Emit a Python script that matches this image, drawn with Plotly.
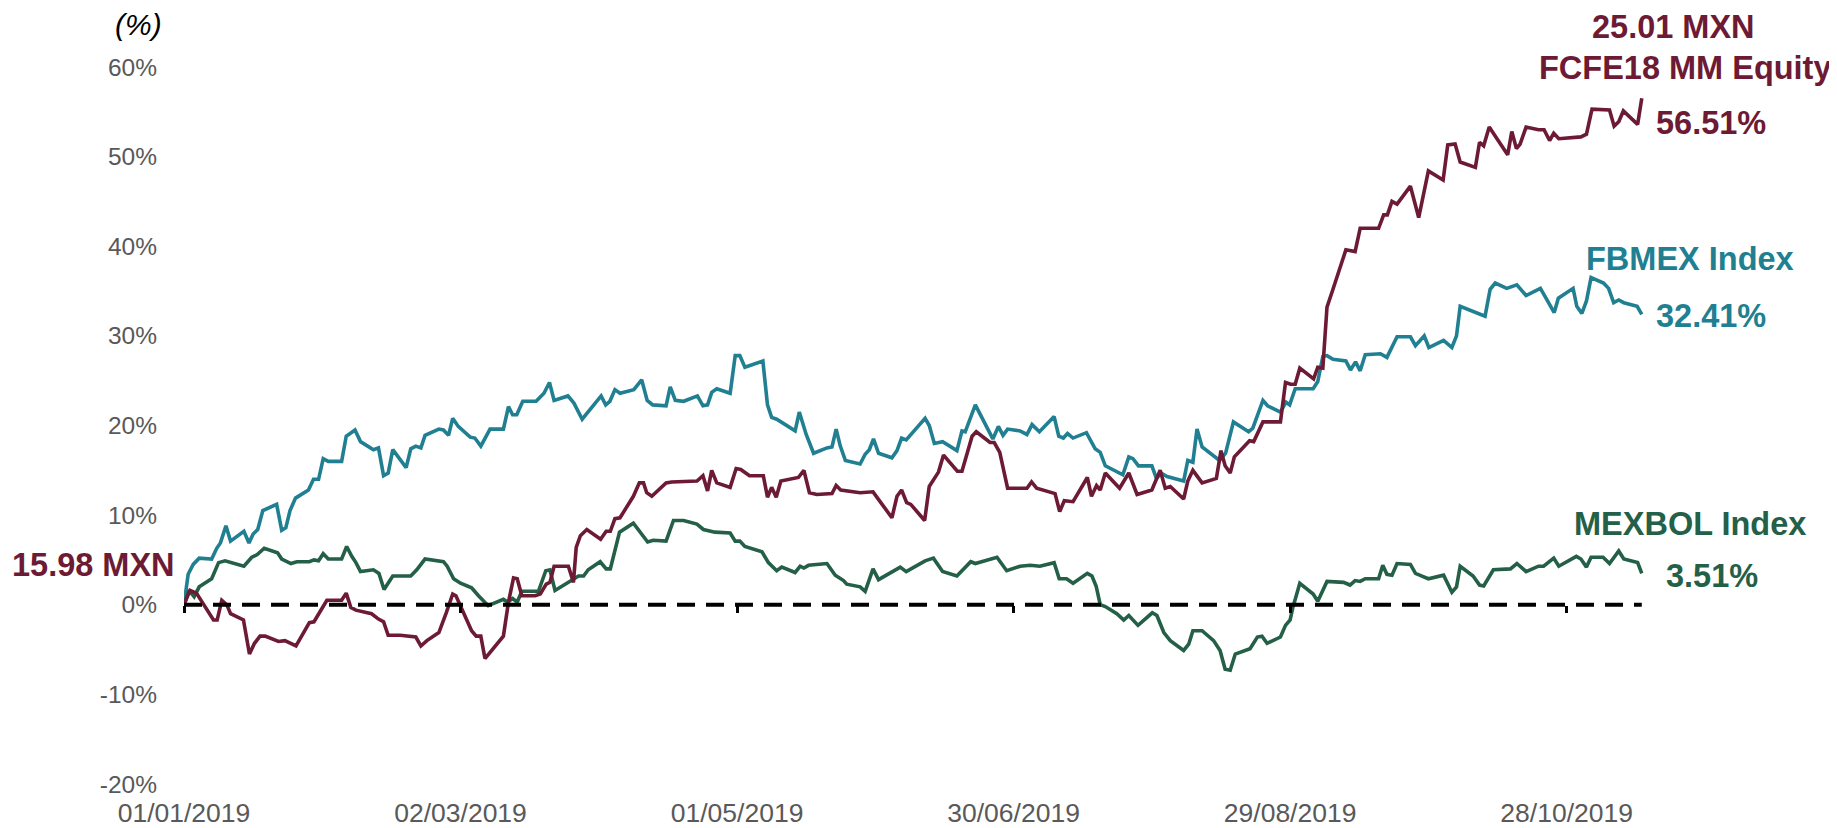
import pandas as pd
import plotly.graph_objects as go

start = pd.Timestamp("2019-01-01")

# days since 01/01/2019 and cumulative return (%)
fcfe_days = [0, 1.3, 2.7, 6.4, 7.2, 8.2, 9.3, 10.1, 12.9, 14.2, 15.3, 16.5, 17.6, 20.5, 21.9, 24.3, 27.2, 28.2,
             31.0, 34.2, 35.2, 36.2, 37.3, 40.7, 42.2, 43.3, 44.3, 46.9, 50.3, 51.4, 52.7, 55.3, 56.9, 58.3, 59.0,
             61.0, 62.4, 63.4, 64.4, 65.3, 69.3, 70.4, 71.5, 72.3, 73.3, 76.2, 77.3, 78.6, 79.4, 80.3, 83.4, 84.5,
             85.1, 86.0, 87.4, 90.4, 91.6, 92.5, 93.5, 94.6, 95.9, 97.5, 98.8, 99.7, 100.4, 101.5, 104.6, 105.8,
             111.3, 112.6, 113.6, 114.5, 115.6, 118.5, 119.8, 120.8, 122.7, 125.7, 126.6, 127.5, 128.5, 129.5,
             133.3, 134.5, 135.7, 137.3, 140.6, 141.5, 142.5, 146.7, 149.5, 151.8, 153.6, 154.7, 155.7, 156.8,
             157.7, 160.7, 161.7, 163.7, 164.8, 167.8, 168.8, 171.0, 171.9, 174.9, 175.8, 177.0, 178.7, 182.9,
             183.9, 185.0, 189.0, 190.0, 191.0, 192.9, 196.0, 196.9, 198.0, 198.8, 199.9, 203.0, 205.0, 206.8,
             210.0, 211.8, 212.9, 214.0, 216.9, 217.8, 218.9, 220.9, 224.0, 225.0, 225.9, 227.0, 227.9, 231.2,
             232.1, 234.1, 237.9, 239.0, 240.1, 241.1, 242.1, 245.1, 246.0, 247.1, 248.0, 249.3, 252.1, 254.1,
             255.2, 259.2, 260.3, 261.1, 262.1, 263.2, 266.1, 267.9, 270.0, 273.2, 274.2, 275.8, 276.9, 280.2,
             281.1, 282.0, 283.2, 285.0, 287.2, 288.1, 289.1, 289.9, 291.2, 293.9, 295.1, 296.3, 297.2, 298.3,
             301.5, 303.1, 304.3, 305.5, 309.3, 310.3, 311.3, 312.3, 315.4, 316.3]
fcfe_vals = [0, 1.6, 1.3, -1.7, -1.7, 0.5, 0.0, -1.0, -1.7, -5.5, -4.3, -3.5, -3.5, -4.1, -4.0, -4.6, -2.0, -1.9,
             0.5, 0.5, 1.3, -0.3, -0.6, -1.0, -1.6, -1.9, -3.4, -3.4, -3.6, -4.6, -4.0, -3.1, -0.9, 1.2, 1.0,
             -1.2, -2.9, -3.5, -3.5, -6.0, -3.5, 0.3, 3.0, 2.9, 1.0, 1.0, 1.2, 2.3, 2.5, 4.3, 4.3, 2.5,
             6.4, 7.7, 8.4, 7.3, 8.2, 8.2, 9.6, 9.7, 10.8, 12.1, 13.6, 13.6, 12.5, 12.1, 13.6, 13.7,
             13.8, 14.4, 12.7, 15.0, 13.6, 13.1, 15.2, 15.1, 14.4, 14.4, 12.0, 13.1, 12.0, 13.8,
             14.2, 15.0, 12.5, 12.3, 12.4, 13.3, 12.8, 12.5, 12.6, 11.0, 9.7, 12.1, 12.8, 11.4,
             11.2, 9.4, 13.2, 14.8, 16.7, 14.9, 14.9, 18.8, 19.3, 18.1, 18.1, 17.0, 13.0, 13.0,
             13.7, 13.0, 12.4, 10.4, 11.6, 11.5, 14.2, 12.1, 13.3, 12.8, 14.7, 13.0, 14.7, 12.3,
             12.8, 15.0, 13.0, 13.2, 11.8, 13.8, 15.0, 13.6, 14.1, 17.2, 15.5, 14.7, 16.5, 18.3,
             18.2, 20.4, 20.4, 24.8, 24.6, 24.6, 26.4, 25.2, 26.5, 26.4, 33.2, 35.2, 39.6, 39.4,
             42.0, 42.0, 43.5, 43.5, 45.0, 44.7, 46.7, 43.2, 48.4, 47.4, 51.3, 51.4, 49.4, 48.8,
             51.6, 51.2, 53.3, 51.9, 50.2, 52.8, 50.9, 51.4, 53.3, 53.0, 53.0, 51.8, 52.6, 52.0,
             52.2, 52.2, 52.5, 55.3, 55.2, 53.4, 53.9, 55.1, 53.6, 56.51]

fbmex_days = [0, 0.9, 2.0, 3.3, 6.0, 7.1, 7.9, 9.1, 10.1, 13.0, 14.1, 15.0, 16.0, 17.1, 20.1, 21.2, 22.1, 23.0,
              24.2, 27.0, 28.1, 29.2, 30.2, 31.3, 34.2, 35.2, 37.1, 38.3, 41.1, 42.2, 43.3, 44.3, 45.3, 48.2,
              49.2, 50.3, 51.4, 52.3, 55.3, 56.3, 57.4, 58.3, 59.5, 62.1, 63.1, 64.4, 66.4, 69.3, 70.4, 71.3,
              72.2, 73.5, 76.4, 78.1, 79.3, 80.3, 83.3, 84.6, 86.4, 88.1, 90.5, 91.5, 92.4, 93.5, 94.6, 97.6,
              99.3, 100.5, 101.7, 104.6, 105.5, 106.6, 108.4, 111.4, 112.6, 113.6, 114.5, 115.6, 118.5, 119.6,
              120.6, 121.7, 125.6, 126.6, 127.5, 128.6, 132.6, 133.5, 135.0, 136.6, 139.5, 140.6, 141.5, 142.4,
              143.5, 146.7, 147.8, 148.7, 149.6, 150.7, 153.6, 154.7, 155.7, 156.7, 160.8, 161.7, 162.8, 164.6,
              167.7, 168.8, 169.5, 171.7, 175.5, 176.7, 177.7, 178.7, 181.4, 182.9, 184.0, 185.6, 188.8, 189.8,
              190.8, 191.7, 192.9, 195.8, 197.7, 198.8, 199.9, 203.7, 205.0, 205.9, 207.1, 210.0, 211.0, 212.0,
              213.3, 216.9, 217.8, 218.9, 219.8, 220.9, 224.7, 226.0, 227.7, 231.0, 231.9, 234.1, 235.1, 237.9,
              239.1, 239.9, 241.1, 245.0, 246.0, 247.1, 248.0, 249.3, 252.1, 253.1, 254.2, 255.2, 256.3, 259.6,
              261.0, 263.2, 266.1, 267.2, 269.1, 270.1, 273.3, 275.1, 276.1, 276.9, 281.8, 282.3, 283.4, 284.5,
              287.0, 289.2, 291.2, 294.3, 295.3, 297.3, 298.2, 301.4, 302.2, 303.3, 304.3, 305.3, 308.0, 309.1,
              310.2, 311.3, 312.4, 315.3, 316.3]
fbmex_vals = [0, 3.4, 4.5, 5.2, 5.1, 6.3, 6.9, 8.8, 7.1, 8.2, 6.9, 7.9, 8.4, 10.5, 11.2, 8.3, 8.6, 10.5,
              11.9, 12.8, 14.0, 14.0, 16.3, 16.0, 16.0, 18.8, 19.5, 18.2, 17.3, 17.5, 14.4, 14.7, 17.3, 15.3,
              17.4, 17.7, 17.5, 18.9, 19.6, 19.5, 18.9, 20.8, 19.9, 18.7, 18.6, 17.7, 19.6, 19.6, 22.1, 21.2,
              21.2, 22.7, 22.7, 23.6, 24.8, 22.8, 23.3, 22.5, 20.7, 21.8, 23.3, 22.3, 22.7, 24.0, 23.6, 24.0,
              25.1, 22.8, 22.3, 22.2, 24.3, 22.8, 22.7, 23.3, 22.2, 22.3, 23.7, 24.1, 23.6, 27.8,
              27.8, 26.5, 27.2, 22.3, 20.9, 20.7, 19.4, 21.5, 19.0, 16.9, 17.5, 17.6, 19.6, 17.7,
              16.1, 15.7, 16.8, 17.3, 18.5, 16.9, 16.4, 17.2, 18.6, 18.4, 20.8, 20.0, 18.0, 18.2,
              17.2, 19.4, 19.3, 22.3, 18.5, 19.9, 18.9, 19.6, 19.4, 19.0, 20.1, 19.3, 21.0, 18.8,
              18.6, 19.1, 18.6, 19.2, 17.4, 17.0, 15.5, 14.5, 16.5, 16.3, 15.5, 15.5, 14.1, 14.7,
              14.3, 13.8, 16.1, 15.9, 19.6, 17.6, 16.1, 16.9, 20.4, 19.3, 19.7, 22.8, 22.2, 21.5,
              22.6, 22.3, 24.1, 24.1, 24.9, 27.7, 27.8, 27.4, 27.2, 26.2, 27.1, 26.1, 27.9, 28.0,
              27.6, 29.9, 29.9, 28.9, 30.0, 28.7, 29.5, 28.7, 30.0, 33.3, 32.3, 32.2, 35.2, 35.9,
              35.3, 35.7, 34.5, 35.3, 34.4, 32.6, 34.2, 35.3, 33.3, 32.5, 33.9, 36.5, 35.9, 35.3,
              33.7, 34.0, 33.7, 33.3, 32.41]

mexbol_days = [0, 1.1, 2.2, 3.3, 6.0, 7.5, 8.9, 13.0, 14.7, 15.9, 17.4, 20.3, 21.2, 23.2, 24.5, 27.2, 28.2, 29.2,
               30.2, 31.3, 34.2, 35.3, 36.4, 37.3, 38.3, 41.1, 42.3, 43.4, 45.3, 49.2, 50.5, 52.3, 56.3, 57.1,
               58.5, 60.0, 62.4, 63.9, 66.0, 69.3, 70.2, 71.3, 72.3, 73.3, 76.9, 78.5, 79.4, 80.5, 84.3, 85.6,
               86.7, 87.7, 90.3, 91.6, 92.5, 93.3, 94.5, 97.5, 100.6, 101.8, 104.6, 106.2, 108.4, 111.3, 112.7,
               115.2, 118.5, 119.6, 120.6, 121.7, 125.4, 126.8, 128.6, 129.7, 132.6, 133.7, 134.5, 135.5, 139.5,
               141.3, 143.1, 143.8, 146.7, 147.8, 149.5, 150.7, 155.4, 156.7, 160.8, 162.6, 164.6, 167.7, 170.7,
               171.7, 176.4, 178.5, 181.4, 183.6, 185.7, 188.8, 189.9, 191.5, 192.9, 196.0, 197.0, 197.9, 198.8,
               199.9, 202.4, 203.9, 205.0, 207.0, 210.1, 211.1, 212.6, 214.0, 216.9, 218.0, 218.9, 220.9, 223.4,
               224.8, 225.9, 227.0, 228.1, 231.3, 232.9, 233.9, 235.0, 237.9, 239.0, 240.0, 240.6, 242.1, 245.0,
               246.0, 248.0, 251.6, 253.0, 254.1, 255.2, 256.3, 259.2, 260.1, 261.0, 262.1, 263.2, 266.1, 267.2,
               268.6, 270.0, 273.3, 275.1, 276.1, 276.9, 279.7, 281.1, 282.0, 284.1, 287.8, 289.2, 291.2, 293.9,
               295.0, 297.2, 298.3, 302.1, 303.1, 304.3, 305.3, 307.9, 309.3, 311.3, 312.4, 315.4, 316.3]
mexbol_vals = [0, 1.6, 0.9, 2.0, 2.9, 4.7, 4.9, 4.3, 5.3, 5.6, 6.3, 5.8, 5.1, 4.6, 4.8, 4.8, 5.0, 4.9,
               5.7, 5.1, 5.1, 6.5, 5.4, 4.7, 3.7, 3.9, 3.5, 1.7, 3.2, 3.2, 3.9, 5.1, 4.8, 4.3,
               2.9, 2.4, 1.9, 1.0, -0.1, 0.6, 0.3, 0.7, 0.3, 1.5, 1.5, 3.8, 3.9, 1.6, 2.8, 3.2,
               3.2, 3.9, 4.8, 4.0, 4.0, 5.5, 8.1, 9.1, 7.0, 7.2, 7.1, 9.4, 9.4, 9.0, 8.4,
               8.1, 8.0, 7.1, 7.1, 6.5, 5.9, 4.7, 3.8, 4.2, 3.6, 4.3, 4.1, 4.4, 4.6,
               3.3, 2.7, 2.3, 2.0, 1.5, 4.0, 2.8, 4.2, 3.7, 4.9, 5.2, 3.7, 3.2, 4.8,
               4.6, 5.3, 3.8, 4.3, 4.4, 4.3, 4.7, 2.9, 2.9, 2.4, 3.5, 3.2, 2.1, 0.0,
               -0.2, -1.0, -1.7, -1.2, -2.3, -0.9, -1.2, -3.1, -4.0, -5.1, -4.4, -2.9, -2.9, -4.0,
               -5.1, -7.2, -7.3, -5.5, -4.9, -3.6, -3.5, -4.3, -3.6, -2.3, -1.7, -0.3, 2.4, 1.2,
               0.4, 2.6, 2.5, 2.2, 2.7, 2.6, 2.9, 2.9, 4.4, 3.4, 3.3, 4.6, 4.5, 3.5,
               3.2, 2.9, 3.3, 1.4, 2.0, 4.3, 3.2, 2.2, 2.1, 3.9, 4.0, 4.6, 3.7, 4.3,
               4.3, 5.2, 4.3, 5.4, 5.1, 4.2, 5.3, 5.3, 4.6, 6.0, 5.1, 4.7, 3.51]

start_price = "15.98 MXN"
end_price = "25.01 MXN"
y_ticks = [-20, -10, 0, 10, 20, 30, 40, 50, 60]

MAROON = "#6D1A35"
TEAL = "#217F92"
GREEN = "#245F47"
FONT = "Liberation Sans, Arial, sans-serif"

# page is 1837x828, the html body adds an 8px margin, so the figure is 8px smaller
OFF = 8
W, H = 1837 - OFF, 828 - OFF
ML, MR, MT, MB = 184 - OFF, 86, 67 - OFF, 44
X_SPAN = 340
Y_MIN, Y_MAX = y_ticks[0], y_ticks[-1]


def to_dates(days):
    return start + pd.to_timedelta(days, unit="D")


def paper(xpx, ypx):
    # page pixel -> paper coords
    xpx, ypx = xpx - OFF, ypx - OFF
    return (xpx - ML) / (W - ML - MR), (H - MB - ypx) / (H - MT - MB)


fig = go.Figure()
for name, days, vals, color in [("FBMEX Index", fbmex_days, fbmex_vals, TEAL),
                                ("MEXBOL Index", mexbol_days, mexbol_vals, GREEN),
                                ("FCFE18 MM Equity", fcfe_days, fcfe_vals, MAROON)]:
    fig.add_trace(go.Scatter(x=to_dates(days), y=vals, mode="lines", name=name,
                             line=dict(color=color, width=3.6)))

# dashed 0% line across the data span, on the axis that carries the tick marks
span = to_dates([fcfe_days[0], fcfe_days[-1]])
fig.add_trace(go.Scatter(x=span, y=[0, 0], mode="lines", xaxis="x2", showlegend=False,
                         line=dict(color="black", width=3.8, dash="18px,11px")))

xrange_ = [start, start + pd.Timedelta(days=X_SPAN)]
dtick = 60 * 86400000

fig.update_layout(
    width=W, height=H, showlegend=False,
    margin=dict(l=ML, r=MR, t=MT, b=MB, autoexpand=False),
    paper_bgcolor="white", plot_bgcolor="white",
    font=dict(family=FONT, color="#595959", size=25),
    xaxis=dict(range=xrange_, type="date", tick0=start, dtick=dtick, tickformat="%d/%m/%Y",
               showgrid=False, zeroline=False, showline=False, ticks="",
               tickfont=dict(size=26.5, color="#595959"), ticklabelstandoff=10),
    xaxis2=dict(range=xrange_, type="date", tick0=start, dtick=dtick, overlaying="x",
                anchor="free", position=(0 - Y_MIN) / (Y_MAX - Y_MIN), side="bottom",
                showgrid=False, zeroline=False, showline=False, showticklabels=False,
                ticks="outside", ticklen=7, tickwidth=2.5, tickcolor="black"),
    yaxis=dict(range=[Y_MIN, Y_MAX], tickmode="array", tickvals=y_ticks,
               ticktext=[f"{v}%" for v in y_ticks],
               showgrid=False, zeroline=False, showline=False, ticks="",
               tickfont=dict(size=24.5, color="#595959"), ticklabelstandoff=26),
)

labels = [
    (end_price, 1673, 27, "center", MAROON),
    ("FCFE18 MM Equity", 1685, 68, "center", MAROON),
    (f"{fcfe_vals[-1]:.2f}%", 1654, 123, "left", MAROON),
    ("FBMEX Index", 1690, 259, "center", TEAL),
    (f"{fbmex_vals[-1]:.2f}%", 1654, 316, "left", TEAL),
    ("MEXBOL Index", 1690, 524, "center", GREEN),
    (f"{mexbol_vals[-1]:.2f}%", 1664, 576, "left", GREEN),
    (start_price, 177, 565, "right", MAROON),
]
for text, xp, yp, anchor, color in labels:
    px_, py_ = paper(xp, yp)
    fig.add_annotation(x=px_, y=py_, xref="paper", yref="paper", text=f"<b>{text}</b>",
                       showarrow=False, xanchor=anchor, yanchor="middle",
                       font=dict(family=FONT, size=32.5, color=color))

px_, py_ = paper(138, 25)
fig.add_annotation(x=px_, y=py_, xref="paper", yref="paper", text="<i>(%)</i>", showarrow=False,
                   xanchor="center", yanchor="middle", font=dict(family=FONT, size=30, color="black"))

fig.write_html("out.html")
